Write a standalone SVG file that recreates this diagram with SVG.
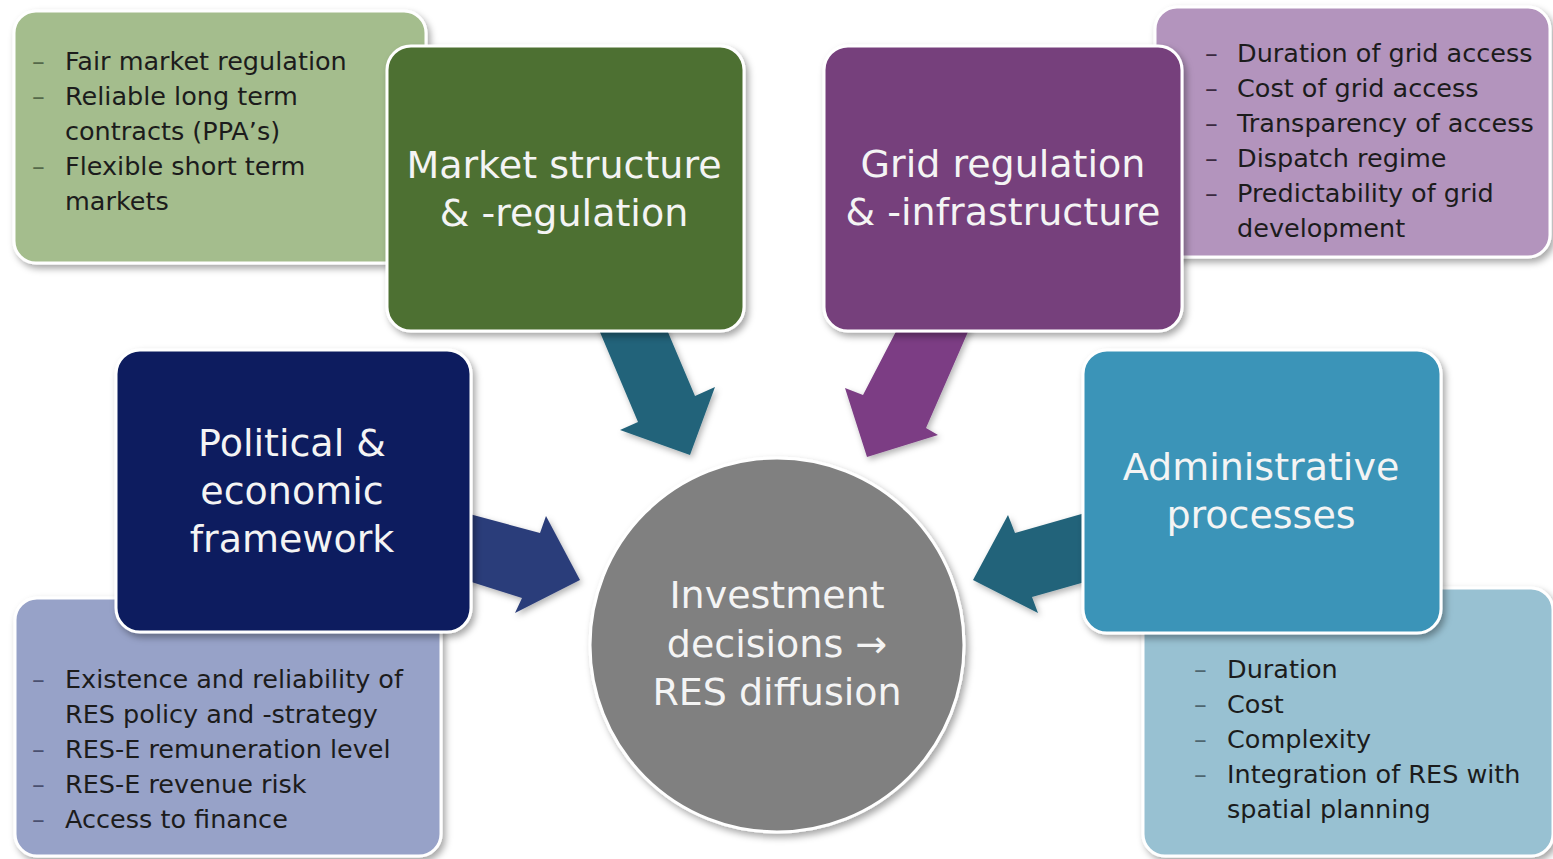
<svg xmlns="http://www.w3.org/2000/svg" width="1553" height="859" viewBox="0 0 1553 859">
<defs>
<filter id="sh" x="-10%" y="-10%" width="125%" height="125%">
<feDropShadow dx="3" dy="4" stdDeviation="3.5" flood-color="#000" flood-opacity="0.35"/>
</filter>
<filter id="ash" x="-15%" y="-15%" width="135%" height="135%">
<feDropShadow dx="2" dy="3" stdDeviation="3" flood-color="#000" flood-opacity="0.3"/>
</filter>
<style>
.box{stroke:#ffffff;stroke-width:3;filter:url(#sh);}
.head{font-family:"DejaVu Sans","Liberation Sans",sans-serif;font-size:38px;fill:#f4f4f4;text-anchor:middle;}
.bul{font-family:"DejaVu Sans","Liberation Sans",sans-serif;font-size:25.5px;fill:#1c1c1c;}
.dash{font-family:"DejaVu Sans","Liberation Sans",sans-serif;font-size:25.5px;}
.arrow{filter:url(#ash);}
</style>
</defs>
<rect width="1553" height="859" fill="#ffffff"/>

<g id="connectors">
<polygon class="arrow" fill="#23637a" points="594,318 662,318 695,396 715,387 690,455 620,430 638,422"/>
<polygon class="arrow" fill="#7b3d84" points="903,318 974,318 926,428 938,435 867,457 845,388 863,395"/>
<polygon class="arrow" fill="#2c3e7a" points="462,512 540,533 546,516 580,580 515,613 522,598 462,579"/>
<polygon class="arrow" fill="#23637a" points="1092,511 1015,533 1008,515 973,580 1038,613 1032,597 1092,580"/>
</g>

<g id="center">
<circle class="box" cx="777" cy="645" r="187" fill="#808080"/>
<text class="head" x="777" y="608">Investment</text>
<text class="head" x="777" y="657">decisions →</text>
<text class="head" x="777" y="705">RES diffusion</text>
</g>

<g id="market-details">
<rect class="box" x="14" y="11" width="412" height="252" rx="22" fill="#a4bd8d"/>
<g class="dash" fill="#55694a">
<text x="32" y="70">–</text><text x="32" y="105">–</text><text x="32" y="175">–</text>
</g>
<text class="bul" x="65" y="70">Fair market regulation</text>
<text class="bul" x="65" y="105">Reliable long term</text>
<text class="bul" x="65" y="140">contracts (PPA’s)</text>
<text class="bul" x="65" y="175">Flexible short term</text>
<text class="bul" x="65" y="210">markets</text>
</g>

<g id="market">
<rect class="box" x="387" y="46" width="357" height="285" rx="24" fill="#4e7031"/>
<text class="head" x="564" y="178">Market structure</text>
<text class="head" x="564" y="226">&amp; -regulation</text>
</g>

<g id="grid-details">
<rect class="box" x="1155" y="7" width="395" height="250" rx="22" fill="#b394bd"/>
<g class="dash" fill="#3a2a40">
<text x="1205" y="62">–</text><text x="1205" y="97">–</text><text x="1205" y="132">–</text><text x="1205" y="167">–</text><text x="1205" y="202">–</text>
</g>
<text class="bul" x="1237" y="62">Duration of grid access</text>
<text class="bul" x="1237" y="97">Cost of grid access</text>
<text class="bul" x="1237" y="132">Transparency of access</text>
<text class="bul" x="1237" y="167">Dispatch regime</text>
<text class="bul" x="1237" y="202">Predictability of grid</text>
<text class="bul" x="1237" y="237">development</text>
</g>

<g id="grid">
<rect class="box" x="824" y="46" width="358" height="285" rx="24" fill="#76417c"/>
<text class="head" x="1003" y="177">Grid regulation</text>
<text class="head" x="1003" y="225">&amp; -infrastructure</text>
</g>

<g id="political-details">
<rect class="box" x="15" y="598" width="426" height="258" rx="22" fill="#97a2c8"/>
<g class="dash" fill="#4a5070">
<text x="32" y="688">–</text><text x="32" y="758">–</text><text x="32" y="793">–</text><text x="32" y="828">–</text>
</g>
<text class="bul" x="65" y="688">Existence and reliability of</text>
<text class="bul" x="65" y="723">RES policy and -strategy</text>
<text class="bul" x="65" y="758">RES-E remuneration level</text>
<text class="bul" x="65" y="793">RES-E revenue risk</text>
<text class="bul" x="65" y="828">Access to finance</text>
</g>

<g id="political">
<rect class="box" x="116" y="350" width="355" height="282" rx="24" fill="#0c1f5e"/>
<text class="head" x="292" y="456">Political &amp;</text>
<text class="head" x="292" y="504">economic</text>
<text class="head" x="292" y="552">framework</text>
</g>

<g id="admin-details">
<rect class="box" x="1143" y="588" width="410" height="268" rx="22" fill="#98c1d2"/>
<g class="dash" fill="#4e6670">
<text x="1194" y="678">–</text><text x="1194" y="713">–</text><text x="1194" y="748">–</text><text x="1194" y="783">–</text>
</g>
<text class="bul" x="1227" y="678">Duration</text>
<text class="bul" x="1227" y="713">Cost</text>
<text class="bul" x="1227" y="748">Complexity</text>
<text class="bul" x="1227" y="783">Integration of RES with</text>
<text class="bul" x="1227" y="818">spatial planning</text>
</g>

<g id="admin">
<rect class="box" x="1083" y="350" width="358" height="283" rx="24" fill="#3b94b8"/>
<text class="head" x="1261" y="480">Administrative</text>
<text class="head" x="1261" y="528">processes</text>
</g>
</svg>
